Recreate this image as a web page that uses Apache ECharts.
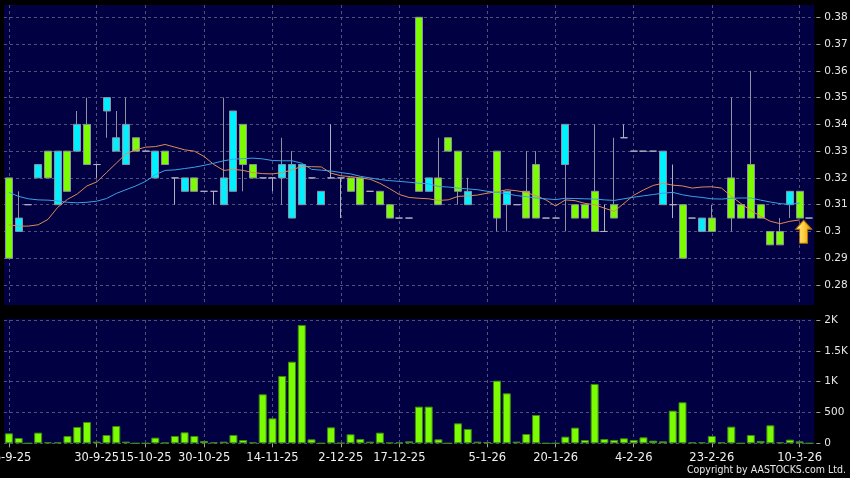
<!DOCTYPE html>
<html><head><meta charset="utf-8">
<style>html,body{margin:0;padding:0;background:#000;}#c{width:850px;height:478px;}</style>
<script src="https://cdn.jsdelivr.net/npm/echarts@6/dist/echarts.min.js"></script>
</head><body><div id="c"></div>
<script>
const opens = [0.32,0.30,0.31,0.32,0.33,0.31,0.33,0.33,0.34,0.325,
 0.345,0.33,0.325,0.335,0.33,0.32,0.33,0.32,0.315,0.32,
 0.315,0.315,0.31,0.315,0.34,0.325,0.32,0.32,0.32,0.305,
 0.31,0.32,0.31,0.32,0.32,0.32,0.32,0.315,0.315,0.31,
 0.305,0.305,0.38,0.315,0.32,0.335,0.33,0.31,null,null,
 0.33,0.31,0.31,0.315,0.325,0.305,0.305,0.325,0.31,0.31,
 0.315,0.30,0.31,0.335,0.33,0.33,0.33,0.31,0.31,0.31,
 0.305,0.30,0.305,null,0.32,0.31,0.325,0.31,0.30,0.30,
 0.31,0.315,0.305];
const closes = [0.29,0.305,0.31,0.325,0.32,0.33,0.315,0.34,0.325,0.325,
 0.35,0.335,0.34,0.33,0.33,0.33,0.325,0.32,0.32,0.315,
 0.315,0.315,0.32,0.345,0.325,0.32,0.32,0.32,0.325,0.325,
 0.325,0.32,0.315,0.32,0.32,0.315,0.31,0.315,0.31,0.305,
 0.305,0.305,0.315,0.32,0.31,0.33,0.315,0.315,null,null,
 0.305,0.315,0.31,0.305,0.305,0.305,0.305,0.34,0.305,0.305,
 0.30,0.30,0.305,0.335,0.33,0.33,0.33,0.33,0.31,0.29,
 0.305,0.305,0.30,null,0.305,0.305,0.305,0.305,0.295,0.295,
 0.315,0.305,0.305];
const lows = [0.29,0.30,0.31,0.32,0.32,0.31,0.315,0.33,0.325,0.32,
 0.335,0.33,0.325,0.33,0.33,0.32,0.325,0.31,0.315,0.315,
 0.315,0.31,0.31,0.315,0.315,0.32,0.32,0.315,0.31,0.305,
 0.31,0.32,0.31,0.32,0.305,0.315,0.31,0.315,0.31,0.305,
 0.305,0.305,0.315,0.315,0.31,0.33,0.31,0.31,null,null,
 0.30,0.30,0.31,0.305,0.305,0.305,0.305,0.30,0.305,0.305,
 0.30,0.30,0.305,0.335,0.33,0.33,0.33,0.31,0.305,0.29,
 0.305,0.30,0.30,null,0.30,0.305,0.305,0.305,0.295,0.295,
 0.305,0.305,0.305];
const highs = [0.32,0.315,0.31,0.325,0.33,0.33,0.33,0.345,0.35,0.325,
 0.35,0.345,0.35,0.335,0.33,0.33,0.33,0.32,0.32,0.32,
 0.315,0.315,0.35,0.345,0.34,0.325,0.32,0.32,0.335,0.33,
 0.325,0.32,0.315,0.34,0.32,0.32,0.32,0.315,0.315,0.31,
 0.305,0.305,0.38,0.32,0.335,0.335,0.33,0.32,null,null,
 0.33,0.315,0.31,0.33,0.33,0.305,0.305,0.34,0.31,0.31,
 0.34,0.31,0.335,0.34,0.33,0.33,0.33,0.33,0.325,0.31,
 0.305,0.305,0.31,null,0.35,0.31,0.36,0.31,0.30,0.305,
 0.315,0.315,0.305];
const ma10 = [0.3025,0.302,0.302,0.3025,0.3045,0.309,0.312,0.314,0.317,0.3185,
 0.322,0.3255,0.329,0.3305,0.3315,0.3317,0.3325,0.3315,0.3305,0.33,
 0.328,0.325,0.3228,0.3232,0.3228,0.322,0.3216,0.3215,0.322,0.323,
 0.3243,0.3242,0.3241,0.3218,0.3208,0.3205,0.32,0.3195,0.318,0.316,
 0.3138,0.3127,0.3124,0.3122,0.3116,0.3118,0.3131,0.3133,0.3136,0.3143,
 0.3148,0.3156,0.3152,0.3146,0.3133,0.3118,0.3095,0.3118,0.3115,0.3105,
 0.31,0.3087,0.3075,0.3105,0.3135,0.3155,0.3172,0.318,0.3173,0.317,
 0.3162,0.3166,0.3167,0.3162,0.3131,0.3104,0.3078,0.3057,0.3038,0.3029,
 0.3038,0.3043,null];
const ma20 = [0.3146,0.3131,0.3122,0.3118,0.3117,0.3114,0.3109,0.3107,0.3109,0.3113,
 0.3123,0.3142,0.3156,0.317,0.3187,0.3212,0.3228,0.323,0.3235,0.324,
 0.3247,0.3255,0.3264,0.327,0.3272,0.3274,0.3271,0.3265,0.3264,0.3264,
 0.3255,0.3232,0.3229,0.3226,0.322,0.3215,0.3206,0.32,0.3194,0.319,
 0.3187,0.3184,0.318,0.3178,0.3168,0.3166,0.3162,0.3159,0.3156,0.315,
 0.3146,0.3141,0.3134,0.313,0.3125,0.3122,0.3119,0.3124,0.3123,0.3122,
 0.3121,0.3118,0.3116,0.3122,0.3128,0.3133,0.3138,0.3143,0.3146,0.3137,
 0.3131,0.3127,0.3122,0.3121,0.3124,0.3125,0.3125,0.3117,0.311,0.3104,
 0.3101,0.3106,null];
const volumes = [162,86,0,173,16,16,119,265,346,27,
 135,281,27,0,0,92,11,119,178,119,
 38,16,27,135,54,16,795,405,1092,1324,
 1919,65,0,259,5,146,70,27,173,11,
 16,32,595,595,65,0,324,232,27,22,
 1016,811,27,151,459,0,0,108,254,54,
 962,70,54,81,54,97,43,32,530,665,
 16,16,119,16,270,0,135,38,292,16,
 59,32,0];
const tickIndex = [0, 9, 14, 20, 27, 34, 40, 49, 56, 64, 72, 81];
const tickText = ['16-9-25','30-9-25','15-10-25','30-10-25','14-11-25','2-12-25','17-12-25','5-1-26','20-1-26','4-2-26','23-2-26','10-3-26'];
const priceTicks = {min: 0.28, max: 0.38, step: 0.01};
const volTicks = {min: 0, max: 2000, step: 500};

const categories = opens.map((_, i) => String(i));
const labelMap = {};
tickIndex.forEach((ix, k) => { labelMap[ix] = tickText[k]; });
const showTick = (index) => labelMap[index] !== undefined;
const nz = v => (v === null ? '-' : v);
const candleData = opens.map((o, i) => o === null ? ['-','-','-','-'] : [o, closes[i], lows[i], highs[i]]);

const NAVY = '#000042';
const GRID_LINE = {color: '#50507c', width: 1, type: [3, 3]};
const FONT = 'DejaVu Sans';

const chart = echarts.init(document.getElementById('c'), null, {renderer: 'canvas'});
chart.setOption({
  animation: false,
  backgroundColor: '#000',
  graphic: [
    {type: 'rect', z: -1, shape: {x: 4, y: 5, width: 810.3, height: 300}, style: {fill: NAVY}, silent: true},
    {type: 'rect', z: -1, shape: {x: 4, y: 319, width: 810.3, height: 124.3}, style: {fill: NAVY}, silent: true},
    {type: 'text', right: 4, top: 465, silent: true,
     style: {text: 'Copyright by AASTOCKS.com Ltd.', fill: '#e8e8e8', fontSize: 10.5, fontFamily: "'DejaVu Sans Condensed', 'Liberation Sans'"}}
  ],
  grid: [
    {left: 4, right: 35.7, top: 17.3, height: 267.7, outerBoundsMode: 'none', containLabel: false},
    {left: 4, right: 35.7, top: 320, height: 123.3, outerBoundsMode: 'none', containLabel: false},
    {left: 4, right: 35.7, top: 5, height: 300, outerBoundsMode: 'none', containLabel: false}
  ],
  xAxis: [
    {type: 'category', gridIndex: 0, data: categories, boundaryGap: true,
     axisLine: {show: false}, axisTick: {show: false}, axisLabel: {show: false}, splitLine: {show: false}},
    {type: 'category', gridIndex: 1, data: categories, boundaryGap: true,
     axisLine: {show: false},
     axisTick: {show: true, interval: showTick, alignWithLabel: true, length: 4, lineStyle: {color: '#a0a0a0'}},
     axisLabel: {interval: showTick, formatter: (v, i) => labelMap[i] || '', color: '#f0f0f0', fontSize: 11.5, fontFamily: FONT, margin: 9},
     splitLine: {show: true, interval: showTick, alignWithLabel: true, lineStyle: GRID_LINE}},
    {type: 'category', gridIndex: 2, data: categories, boundaryGap: true,
     axisLine: {show: false}, axisTick: {show: false}, axisLabel: {show: false},
     splitLine: {show: true, interval: showTick, alignWithLabel: true, lineStyle: GRID_LINE}}
  ],
  yAxis: [
    {type: 'value', gridIndex: 0, position: 'right', offset: 2,
     min: priceTicks.min, max: priceTicks.max, interval: priceTicks.step,
     axisLine: {show: false},
     axisTick: {show: true, length: 4, lineStyle: {color: '#a0a0a0'}},
     axisLabel: {color: '#e6e6e6', fontSize: 10.5, fontFamily: FONT, margin: 8, formatter: v => String(+v.toFixed(3))},
     splitLine: {show: true, lineStyle: GRID_LINE}},
    {type: 'value', gridIndex: 1, position: 'right', offset: 2,
     min: volTicks.min, max: volTicks.max, interval: volTicks.step,
     axisLine: {show: false},
     axisTick: {show: true, length: 4, lineStyle: {color: '#a0a0a0'}},
     axisLabel: {color: '#e6e6e6', fontSize: 10.5, fontFamily: FONT, margin: 8, formatter: v => v >= 1000 ? (v / 1000) + 'K' : String(v)},
     splitLine: {show: true, lineStyle: GRID_LINE}},
    {type: 'value', gridIndex: 2, min: 0, max: 1, show: false, splitLine: {show: false}}
  ],
  series: [
    {type: 'candlestick', xAxisIndex: 0, yAxisIndex: 0, data: candleData, barWidth: 7.5, z: 2,
     itemStyle: {color: '#00f0ff', color0: '#7cfc00', borderColor: '#9090a0', borderColor0: '#9090a0', borderColorDoji: '#b0b0c0', borderWidth: 1},
     markPoint: {silent: true, symbol: 'path://M8,0 L16,9 L12,9 L12,23 L4,23 L4,9 L0,9 Z', symbolSize: [16, 23], symbolOffset: [4, 0],
       label: {show: false},
       itemStyle: {color: {type: 'linear', x: 0, y: 0, x2: 1, y2: 0, colorStops: [{offset: 0, color: '#fff0a0'}, {offset: 0.5, color: '#ffd040'}, {offset: 1, color: '#d89000'}]}, borderColor: '#b07000', borderWidth: 1},
       data: [{coord: [81, 0.2999]}]}},
    {type: 'line', xAxisIndex: 0, yAxisIndex: 0, data: ma10.map(nz), showSymbol: false, symbol: 'none', z: 3,
     lineStyle: {color: '#e08a56', width: 1}},
    {type: 'line', xAxisIndex: 0, yAxisIndex: 0, data: ma20.map(nz), showSymbol: false, symbol: 'none', z: 3,
     lineStyle: {color: '#3aa2e6', width: 1}},
    {type: 'bar', xAxisIndex: 1, yAxisIndex: 1, data: volumes, barWidth: 8,
     itemStyle: {color: '#7cfc00', borderColor: '#3c8a14', borderWidth: 1}}
  ]
});
</script></body></html>
